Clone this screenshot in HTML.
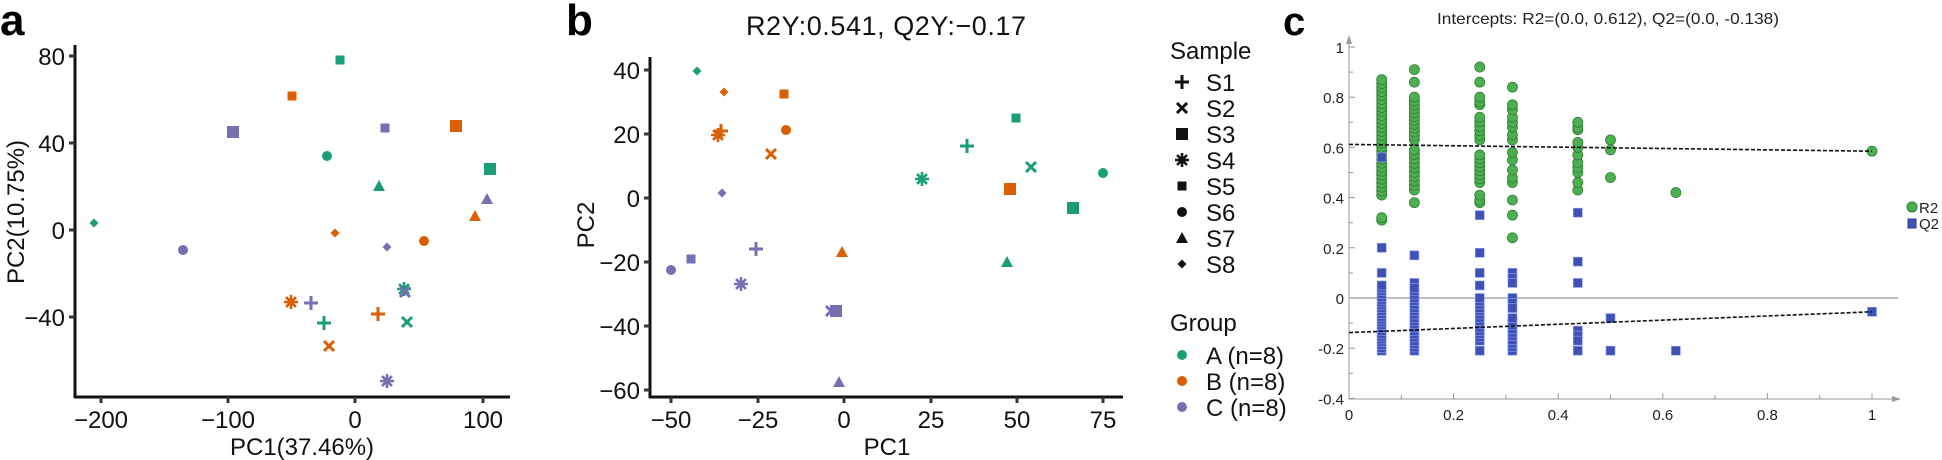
<!DOCTYPE html>
<html><head><meta charset="utf-8"><style>
html,body{margin:0;padding:0;background:#fff;}
svg{display:block;font-family:"Liberation Sans",sans-serif;}
</style></head><body>
<svg id="s" width="1942" height="460" xmlns="http://www.w3.org/2000/svg">
<!-- Panel a -->
<text x="0" y="35" font-size="44" font-weight="bold">a</text>
<line x1="75" y1="45" x2="75" y2="398" stroke="#111" stroke-width="3"/>
<line x1="74" y1="397" x2="510" y2="397" stroke="#111" stroke-width="3"/>
<g stroke="#333" stroke-width="3">
<line x1="69" y1="56" x2="75" y2="56"/><line x1="69" y1="143" x2="75" y2="143"/><line x1="69" y1="230" x2="75" y2="230"/><line x1="69" y1="317" x2="75" y2="317"/>
<line x1="101" y1="397" x2="101" y2="403"/><line x1="228" y1="397" x2="228" y2="403"/><line x1="355" y1="397" x2="355" y2="403"/><line x1="483" y1="397" x2="483" y2="403"/>
</g>
<g font-size="24" fill="#111" text-anchor="end">
<text x="65" y="65">80</text><text x="65" y="152">40</text><text x="65" y="239">0</text><text x="65" y="326">−40</text>
</g>
<g font-size="24" fill="#111" text-anchor="middle">
<text x="101" y="428">−200</text><text x="228" y="428">−100</text><text x="355" y="428">0</text><text x="483" y="428">100</text>
<text x="302" y="455">PC1(37.46%)</text>
<text transform="translate(24,212) rotate(-90)">PC2(10.75%)</text>
</g>
<!-- Panel b -->
<text x="566" y="35" font-size="44" font-weight="bold">b</text>
<text x="746" y="35" font-size="27" fill="#111" textLength="280">R2Y:0.541, Q2Y:−0.17</text>
<line x1="650" y1="57" x2="650" y2="398" stroke="#111" stroke-width="3"/>
<line x1="649" y1="397" x2="1123" y2="397" stroke="#111" stroke-width="3"/>
<g stroke="#333" stroke-width="3">
<line x1="644" y1="70" x2="650" y2="70"/><line x1="644" y1="134" x2="650" y2="134"/><line x1="644" y1="198" x2="650" y2="198"/><line x1="644" y1="262" x2="650" y2="262"/><line x1="644" y1="326" x2="650" y2="326"/><line x1="644" y1="390" x2="650" y2="390"/>
<line x1="671" y1="397" x2="671" y2="403"/><line x1="758" y1="397" x2="758" y2="403"/><line x1="844" y1="397" x2="844" y2="403"/><line x1="931" y1="397" x2="931" y2="403"/><line x1="1017" y1="397" x2="1017" y2="403"/><line x1="1103" y1="397" x2="1103" y2="403"/>
</g>
<g font-size="24" fill="#111" text-anchor="end">
<text x="640" y="79">40</text><text x="640" y="143">20</text><text x="640" y="207">0</text><text x="640" y="271">−20</text><text x="640" y="335">−40</text><text x="640" y="399">−60</text>
</g>
<g font-size="24" fill="#111" text-anchor="middle">
<text x="671" y="428">−50</text><text x="758" y="428">−25</text><text x="844" y="428">0</text><text x="931" y="428">25</text><text x="1017" y="428">50</text><text x="1103" y="428">75</text>
<text x="887" y="455">PC1</text>
<text transform="translate(594,225) rotate(-90)">PC2</text>
</g>
<!-- legend -->
<g font-size="24" fill="#111">
<text x="1170" y="59">Sample</text>
<text x="1206" y="91">S1</text><text x="1206" y="117">S2</text><text x="1206" y="143">S3</text><text x="1206" y="169">S4</text>
<text x="1206" y="195">S5</text><text x="1206" y="221">S6</text><text x="1206" y="247">S7</text><text x="1206" y="273">S8</text>
<text x="1170" y="331">Group</text>
<text x="1206" y="364">A (n=8)</text><text x="1206" y="390">B (n=8)</text><text x="1206" y="416">C (n=8)</text>
</g>
<circle cx="1182" cy="355" r="5" fill="#1b9e77"/><circle cx="1182" cy="381" r="5" fill="#d95f02"/><circle cx="1182" cy="407" r="5" fill="#7570b3"/>
<g id="markers"></g>
<!-- Panel c -->
<text x="1283" y="35" font-size="40" font-weight="bold">c</text>
<text x="1608" y="24" font-size="16" fill="#222" text-anchor="middle" textLength="342" lengthAdjust="spacingAndGlyphs">Intercepts: R2=(0.0, 0.612), Q2=(0.0, -0.138)</text>
<line x1="1349" y1="36" x2="1349" y2="399" stroke="#999" stroke-width="1"/>
<polygon points="1346,44 1352,44 1349,35" fill="#999"/>
<line x1="1349" y1="399" x2="1895" y2="399" stroke="#999" stroke-width="1"/>
<polygon points="1892,396 1892,402 1901,399" fill="#999"/>
<line x1="1349" y1="298" x2="1898" y2="298" stroke="#999" stroke-width="1.2"/>
<g id="cticks" stroke="#999" stroke-width="1"></g>
<g font-size="15" fill="#222" text-anchor="end" id="cyl"></g>
<g font-size="15" fill="#222" text-anchor="middle" id="cxl"></g>
<g id="cpts"></g>
<line x1="1349" y1="144.4" x2="1872" y2="151.2" stroke="#111" stroke-width="1.6" stroke-dasharray="4,2"/>
<line x1="1349" y1="332.6" x2="1872" y2="311.8" stroke="#111" stroke-width="1.6" stroke-dasharray="4,2"/>
<circle cx="1912" cy="207" r="5" fill="#4caf50" stroke="#2e7d32"/>
<rect x="1908" y="219" width="8" height="9" fill="#3f51b5" stroke="#283593"/>
<text x="1919" y="213" font-size="15" fill="#222">R2</text>
<text x="1919" y="229" font-size="15" fill="#222">Q2</text>
</svg>
<script>
var NS="http://www.w3.org/2000/svg";
function el(p,t,a){var e=document.createElementNS(NS,t);for(var k in a)e.setAttribute(k,a[k]);p.appendChild(e);return e;}
var G={A:"#1b9e77",B:"#d95f02",C:"#7570b3"};
var M=document.getElementById("markers");
function mk(t,x,y,c){
 if(t=="S1"){el(M,"path",{d:"M"+(x-7)+" "+y+"h14M"+x+" "+(y-7)+"v14",stroke:c,"stroke-width":3});}
 else if(t=="S2"){el(M,"path",{d:"M"+(x-5)+" "+(y-5)+"l10 10M"+(x+5)+" "+(y-5)+"l-10 10",stroke:c,"stroke-width":3});}
 else if(t=="S3"){el(M,"rect",{x:x-6,y:y-6,width:12,height:12,fill:c});}
 else if(t=="S4"){var d="";for(var i=0;i<4;i++){var a=i*Math.PI/4;d+="M"+(x-7*Math.cos(a))+" "+(y-7*Math.sin(a))+"L"+(x+7*Math.cos(a))+" "+(y+7*Math.sin(a));}el(M,"path",{d:d,stroke:c,"stroke-width":2.6});}
 else if(t=="S5"){el(M,"rect",{x:x-4.5,y:y-4.5,width:9,height:9,fill:c});}
 else if(t=="S6"){el(M,"circle",{cx:x,cy:y,r:5,fill:c});}
 else if(t=="S7"){el(M,"polygon",{points:(x-6)+","+(y+5)+" "+(x+6)+","+(y+5)+" "+x+","+(y-6),fill:c});}
 else if(t=="S8"){el(M,"polygon",{points:x+","+(y-4.5)+" "+(x+4.5)+","+y+" "+x+","+(y+4.5)+" "+(x-4.5)+","+y,fill:c});}
}
var pa=[["S5","A",340,60],["S5","B",292,96],["S3","C",233,132],["S5","C",385,128],["S6","A",327,156],["S7","A",379,186],["S8","A",94,223],["S8","B",335,233],["S8","C",387,247],["S6","C",183,250],["S4","B",291,302],["S1","C",311,303],["S1","A",324,323],["S2","B",329,346],["S1","B",378,314],["S4","A",404,289],["S2","C",405,292],["S2","A",407,322],["S4","C",387,381],["S3","B",456,126],["S3","A",490,169],["S7","C",487,199],["S7","B",475,216],["S6","B",424,241]];
var pb=[["S8","A",697,71],["S8","B",724,92],["S5","B",784,94],["S4","B",718,135],["S1","B",721,131],["S6","B",786,130],["S2","B",771,154],["S8","C",722,193],["S1","C",756,249],["S5","C",691,259],["S6","C",671,270],["S4","C",741,284],["S7","B",842,252],["S2","C",831,311],["S3","C",836,311],["S7","C",839,382],["S4","A",922,179],["S1","A",967,146],["S5","A",1016,118],["S2","A",1031,167],["S3","B",1010,189],["S6","A",1103,173],["S3","A",1073,208],["S7","A",1007,262]];
pa.concat(pb).forEach(function(p){mk(p[0],p[2],p[3],G[p[1]]);});
// legend shapes
["S1","S2","S3","S4","S5","S6","S7","S8"].forEach(function(t,i){mk(t,1182,82+26*i,"#111");});
// panel c
var X=function(v){return 1349+523*v;},Y=function(v){return 298-251*v;};
var T=document.getElementById("cticks"),YL=document.getElementById("cyl"),XL=document.getElementById("cxl");
for(var i=0;i<=10;i++){el(T,"line",{x1:X(i/10),y1:399,x2:X(i/10),y2:i%2?395:393});}
for(var i=-4;i<=10;i++){el(T,"line",{x1:1349,y1:Y(i/10),x2:i%2?1353:1355,y2:Y(i/10)});}
[1,0.8,0.6,0.4,0.2,0,-0.2,-0.4].forEach(function(v){var t=el(YL,"text",{x:1344,y:Y(v)+6});t.textContent=String(v);});
[0,0.2,0.4,0.6,0.8,1].forEach(function(v){var t=el(XL,"text",{x:X(v),y:420});t.textContent=String(v);});
var C=document.getElementById("cpts");
function rng(a,b,n){var r=[];for(var i=0;i<n;i++)r.push(a+(b-a)*i/(n-1));return r;}
var R2={0.0625:[0.31,0.32].concat(rng(0.41,0.87,30)),0.125:[0.38].concat(rng(0.43,0.59,10),rng(0.63,0.8,12),[0.86,0.91]),
0.25:[0.38,0.39,0.41].concat(rng(0.46,0.57,8),rng(0.63,0.72,6),[0.77,0.78,0.8,0.86,0.92]),
0.3125:[0.24,0.33,0.39,0.46,0.48,0.51,0.55,0.58,0.63,0.65,0.68,0.7,0.72,0.75,0.77,0.84],
0.4375:[0.43,0.46,0.5,0.52,0.54,0.57,0.6,0.62,0.67,0.68,0.7],0.5:[0.48,0.59,0.63],0.625:[0.42],1:[0.585]};
var Q2={0.0625:[0.56,0.2,0.1].concat(rng(-0.21,0.05,24)),0.125:[0.17,0.06].concat(rng(-0.21,0.04,20)),
0.25:[0.33,0.18,0.1,0.05,-0.21].concat(rng(-0.17,0.0,14)),0.3125:[0.1,0.08,0.06,-0.0,-0.02,-0.04].concat(rng(-0.21,-0.08,10)),
0.4375:[0.34,0.145,0.06,-0.13,-0.15,-0.17,-0.21],0.5:[-0.08,-0.21],0.625:[-0.21],1:[-0.055]};
for(var k in R2)R2[k].forEach(function(v){el(C,"circle",{cx:X(+k),cy:Y(v),r:5,fill:"#4caf50",stroke:"#2e7d32","stroke-width":0.8});});
for(var k in Q2)Q2[k].forEach(function(v){el(C,"rect",{x:X(+k)-4.5,y:Y(v)-4.5,width:9,height:9,fill:"#3f51b5",stroke:"#8c9eff","stroke-width":0.6});});
</script>
</body></html>
